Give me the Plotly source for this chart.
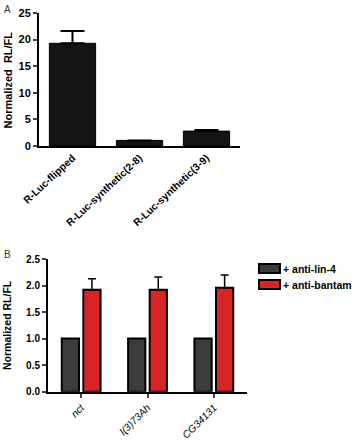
import plotly.graph_objects as go

W, H = 355, 440

# Panel A data
a_cats = ["R-Luc-flipped", "R-Luc-synthetic(2-8)", "R-Luc-synthetic(3-9)"]
a_vals = [19.3, 1.05, 2.8]
a_err = [2.3, 0.0, 0.2]

# Panel B data
b_cats = ["nct", "l(3)73Ah", "CG34131"]
b_series = ["+ anti-lin-4", "+ anti-bantam"]
b_lin4 = [1.0, 1.0, 1.0]
b_bantam = [1.92, 1.92, 1.96]
b_bantam_err = [0.21, 0.24, 0.24]

FONT = "Liberation Sans, Arial, sans-serif"
DARK = "#3c3c3c"
RED = "#d82424"

def px_x(p):
    return p / W

def px_y(p):
    return 1 - p / H

fig = go.Figure()

fig.add_trace(go.Bar(
    x=a_cats, y=a_vals, xaxis="x", yaxis="y", width=0.69,
    marker=dict(color="#141414", line=dict(color="#000", width=1)),
    error_y=dict(type="data", symmetric=False, array=a_err, arrayminus=[0]*3,
                 color="#000", thickness=2, width=12),
    showlegend=False,
))

fig.add_trace(go.Bar(
    x=b_cats, y=b_lin4, xaxis="x2", yaxis="y2", name=b_series[0],
    marker=dict(color=DARK, line=dict(color="#000", width=2)),
    showlegend=False,
))
fig.add_trace(go.Bar(
    x=b_cats, y=b_bantam, xaxis="x2", yaxis="y2", name=b_series[1],
    marker=dict(color=RED, line=dict(color="#000", width=2)),
    error_y=dict(type="data", symmetric=False, array=b_bantam_err, arrayminus=[0]*3,
                 color="#000", thickness=1.5, width=4),
    showlegend=False,
))

axis_common = dict(showline=True, linecolor="#000", linewidth=2, showgrid=False,
                   zeroline=False, automargin=False)

# manual legend (swatches + labels)
shapes = []
legend_ann = []
for i, (name, col) in enumerate(zip(b_series, [DARK, RED])):
    top = 264 + i * 16
    shapes.append(dict(type="rect", xref="paper", yref="paper",
                       x0=px_x(259), x1=px_x(280), y0=px_y(top + 9), y1=px_y(top),
                       fillcolor=col, line=dict(color="#000", width=2)))
    legend_ann.append(dict(text="<b>" + name + "</b>", x=px_x(282), y=px_y(top + 4.5),
                           xref="paper", yref="paper", xanchor="left", yanchor="middle",
                           showarrow=False, borderpad=0,
                           font=dict(size=10.5, family=FONT)))

fig.update_layout(
    width=W, height=H, margin=dict(l=0, r=0, t=0, b=0, autoexpand=False),
    paper_bgcolor="white", plot_bgcolor="white",
    barmode="group", bargap=0.35, bargroupgap=0.2,
    font=dict(family=FONT, color="#000"),
    xaxis=dict(domain=[px_x(39), px_x(240)], anchor="y", range=[-0.5, 2.5],
               ticks="", tickangle=-43,
               tickfont=dict(size=10.3, weight="bold", family=FONT), **axis_common),
    yaxis=dict(domain=[px_y(146), px_y(13)], anchor="x", range=[0, 25], dtick=5,
               ticks="outside", ticklen=4, tickwidth=2,
               tickfont=dict(size=11, weight="bold", family=FONT), **axis_common),
    xaxis2=dict(domain=[px_x(48), px_x(247)], anchor="y2", range=[-0.5, 2.5],
                ticks="outside", ticklen=4, tickwidth=1.5, tickangle=-45,
                tickfont=dict(size=10.2, style="italic", family=FONT), **axis_common),
    yaxis2=dict(domain=[px_y(391.7), px_y(259)], anchor="x2", range=[0, 2.5], dtick=0.5,
                tickformat=".1f", ticks="outside", ticklen=4, tickwidth=2,
                tickfont=dict(size=10, weight="bold", family=FONT), **axis_common),
    shapes=shapes,
    annotations=[
        dict(text="A", x=px_x(2), y=px_y(2), xref="paper", yref="paper",
             xanchor="left", yanchor="top", showarrow=False,
             font=dict(size=10, color="#333", family=FONT)),
        dict(text="B", x=px_x(2), y=px_y(247), xref="paper", yref="paper",
             xanchor="left", yanchor="top", showarrow=False,
             font=dict(size=10, color="#333", family=FONT)),
        dict(text="<b>Normalized  RL/FL</b>", x=px_x(7.5), y=px_y(80), xref="paper",
             yref="paper", xanchor="center", yanchor="middle", textangle=-90,
             showarrow=False, font=dict(size=11, family=FONT)),
        dict(text="<b>Normalized RL/FL</b>", x=px_x(7), y=px_y(325), xref="paper",
             yref="paper", xanchor="center", yanchor="middle", textangle=-90,
             showarrow=False, font=dict(size=10.5, family=FONT)),
    ] + legend_ann,
)

fig.write_html("out.html")
